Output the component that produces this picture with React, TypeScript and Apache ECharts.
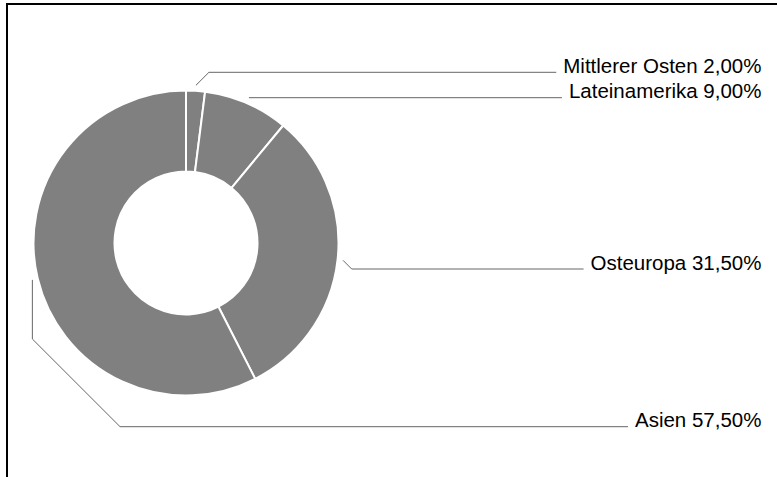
import React, { useEffect, useRef } from "react";
import * as echarts from "echarts";

// Data
const categories: string[] = ["Mittlerer Osten", "Lateinamerika", "Osteuropa", "Asien"];
const shares: number[] = [2.0, 9.0, 31.5, 57.5];

// Layout constants (not data)
const CX = 186;
const CY = 243;
const R_IN = 71.5;
const R_OUT = 152.5;
const LABEL_RIGHT = 761.5;
const LINE_Y = [72.3, 97.7, 269, 426.7];
const BEND_Y: (number | null)[] = [null, null, null, 339];

function anchorPoint(i: number): number[] {
  const total = shares.reduce((a, b) => a + b, 0);
  let before = 0;
  for (let k = 0; k < i; k++) before += shares[k];
  const mid = ((before + shares[i] / 2) / total) * 2 * Math.PI;
  const r = R_OUT + 5.5;
  return [CX + r * Math.sin(mid), CY - r * Math.cos(mid)];
}

const fmt = (v: number) => v.toFixed(2).replace(".", ",") + "%";

export default function App() {
  const ref = useRef<HTMLDivElement>(null);

  useEffect(() => {
    if (!ref.current) return;
    const chart = echarts.init(ref.current, undefined, { renderer: "svg" });
    chart.setOption({
      animation: false,
      backgroundColor: "#ffffff",
      graphic: [
        {
          type: "rect",
          shape: { x: 7, y: 4, width: 900, height: 700 },
          style: { fill: "none", stroke: "#000000", lineWidth: 2 },
          silent: true,
        },
      ],
      series: [
        {
          type: "pie",
          center: [CX, CY],
          radius: [R_IN, R_OUT],
          startAngle: 90,
          clockwise: true,
          avoidLabelOverlap: false,
          emphasis: { disabled: true },
          itemStyle: { color: "#808080", borderColor: "#ffffff", borderWidth: 2 },
          label: {
            show: true,
            position: "outside",
            color: "#000000",
            fontSize: 20.5,
            fontFamily: "'Liberation Sans', Arial, Helvetica, sans-serif",
            formatter: (p: any) => `${p.name} ${fmt(p.value)}`,
          },
          labelLine: {
            show: true,
            smooth: false,
            lineStyle: { color: "#666666", width: 1 },
          },
          labelLayout: (params: any) => {
            const i = params.dataIndex;
            const w = params.labelRect.width;
            const ly = LINE_Y[i];
            const pts: number[][] = [anchorPoint(i)];
            const b = BEND_Y[i];
            if (b != null) pts.push([pts[0][0], b]);
            const last = pts[pts.length - 1];
            const dy = Math.abs(ly - last[1]);
            pts.push([last[0] + dy, ly]);
            pts.push([LABEL_RIGHT - w - 7, ly]);
            return {
              x: LABEL_RIGHT,
              y: ly - 7,
              align: "right",
              verticalAlign: "middle",
              labelLinePoints: pts,
            };
          },
          data: categories.map((name, i) => ({ name, value: shares[i] })),
        },
      ],
    });
    return () => chart.dispose();
  }, []);

  return (
    <div
      ref={ref}
      style={{ position: "fixed", left: 0, top: 0, width: 777, height: 477, background: "#fff" }}
    />
  );
}
